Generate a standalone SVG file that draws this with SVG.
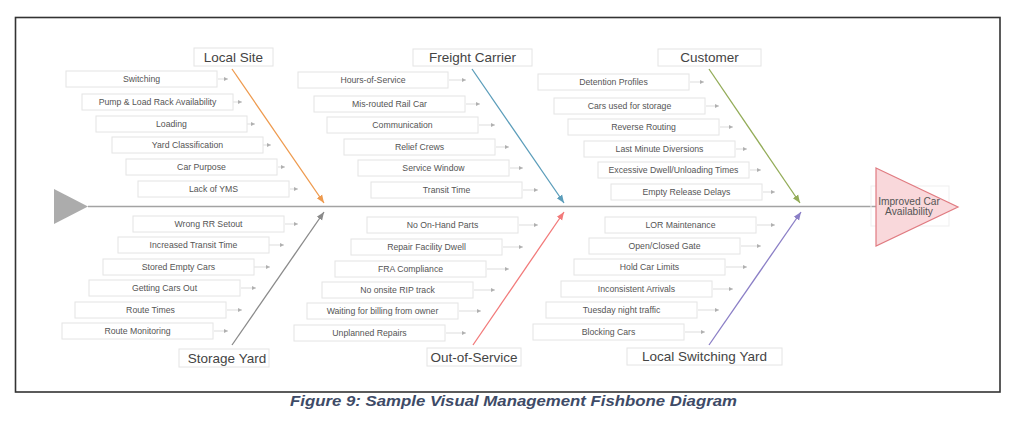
<svg xmlns="http://www.w3.org/2000/svg" width="1024" height="425" viewBox="0 0 1024 425">
<style>
.bg{fill:#ffffff}
.frame{fill:none;stroke:#333333;stroke-width:1.6}
.box{fill:#ffffff;stroke:#e4e4e4;stroke-width:1}
.cause{font-family:"Liberation Sans",Arial,sans-serif;font-size:8.7px;fill:#555555;text-anchor:middle}
.cat{font-family:"Liberation Sans",Arial,sans-serif;font-size:13.5px;fill:#444444;text-anchor:middle}
.tick{stroke:#d4d4d4;stroke-width:0.8;fill:none}
.bone{fill:none;stroke-width:1.3}
.spine{stroke:#a3a3a3;stroke-width:1.6}
.caption{font-family:"Liberation Sans",Arial,sans-serif;font-size:15.5px;font-weight:bold;font-style:italic;fill:#3e4b67;text-anchor:middle}
</style>
<defs>
<marker id="mSmall" viewBox="0 0 6 6" refX="6" refY="3" markerWidth="4" markerHeight="4" orient="auto" markerUnits="userSpaceOnUse"><path d="M0,0 L6,3 L0,6 z" fill="#b0b0b0"/></marker>
<marker id="mOrange" viewBox="0 0 10 10" refX="10" refY="5" markerWidth="8" markerHeight="8" orient="auto" markerUnits="userSpaceOnUse"><path d="M0,1 L10,5 L0,9 z" fill="#ee9a4e"/></marker>
<marker id="mGray" viewBox="0 0 10 10" refX="10" refY="5" markerWidth="8" markerHeight="8" orient="auto" markerUnits="userSpaceOnUse"><path d="M0,1 L10,5 L0,9 z" fill="#8a8a8a"/></marker>
<marker id="mBlue" viewBox="0 0 10 10" refX="10" refY="5" markerWidth="8" markerHeight="8" orient="auto" markerUnits="userSpaceOnUse"><path d="M0,1 L10,5 L0,9 z" fill="#5b9dba"/></marker>
<marker id="mRed" viewBox="0 0 10 10" refX="10" refY="5" markerWidth="8" markerHeight="8" orient="auto" markerUnits="userSpaceOnUse"><path d="M0,1 L10,5 L0,9 z" fill="#f27a7a"/></marker>
<marker id="mGreen" viewBox="0 0 10 10" refX="10" refY="5" markerWidth="8" markerHeight="8" orient="auto" markerUnits="userSpaceOnUse"><path d="M0,1 L10,5 L0,9 z" fill="#93ac58"/></marker>
<marker id="mPurple" viewBox="0 0 10 10" refX="10" refY="5" markerWidth="8" markerHeight="8" orient="auto" markerUnits="userSpaceOnUse"><path d="M0,1 L10,5 L0,9 z" fill="#8b7fc6"/></marker>
</defs>
<rect class="bg" x="0" y="0" width="1024" height="425"/>
<rect class="frame" x="15.5" y="17.5" width="984.5" height="374.5"/>

<g id="connectors">
<line class="spine" x1="88" y1="206.5" x2="876" y2="206.5"/>
<line class="bone" stroke="#ee9a4e" x1="232" y1="69" x2="324" y2="203" marker-end="url(#mOrange)"/>
<line class="bone" stroke="#8a8a8a" x1="232" y1="345" x2="324" y2="212" marker-end="url(#mGray)"/>
<line class="bone" stroke="#5b9dba" x1="472" y1="69" x2="564" y2="203" marker-end="url(#mBlue)"/>
<line class="bone" stroke="#f27a7a" x1="473" y1="345" x2="564" y2="212" marker-end="url(#mRed)"/>
<line class="bone" stroke="#93ac58" x1="709" y1="69" x2="800" y2="203" marker-end="url(#mGreen)"/>
<line class="bone" stroke="#8b7fc6" x1="709" y1="345" x2="801" y2="212" marker-end="url(#mPurple)"/>
<!-- small cause connectors -->
<g marker-end="url(#mSmall)" class="tick">
<line x1="218" y1="79" x2="228" y2="79"/>
<line x1="233" y1="102" x2="242" y2="102"/>
<line x1="247" y1="124" x2="255" y2="124"/>
<line x1="263" y1="145" x2="271" y2="145"/>
<line x1="278" y1="167" x2="285" y2="167"/>
<line x1="290" y1="189" x2="298" y2="189"/>
<line x1="285" y1="224" x2="298" y2="224"/>
<line x1="269" y1="245" x2="284" y2="245"/>
<line x1="254" y1="267" x2="270" y2="267"/>
<line x1="241" y1="288" x2="256" y2="288"/>
<line x1="227" y1="310" x2="242" y2="310"/>
<line x1="214" y1="331" x2="228" y2="331"/>
<line x1="449" y1="80" x2="466" y2="80"/>
<line x1="466" y1="104" x2="480" y2="104"/>
<line x1="479" y1="125" x2="495" y2="125"/>
<line x1="496" y1="147" x2="509" y2="147"/>
<line x1="510" y1="168" x2="523" y2="168"/>
<line x1="523" y1="190" x2="538" y2="190"/>
<line x1="519" y1="225" x2="538" y2="225"/>
<line x1="503" y1="247" x2="523" y2="247"/>
<line x1="487" y1="269" x2="509" y2="269"/>
<line x1="474" y1="290" x2="495" y2="290"/>
<line x1="459" y1="311" x2="481" y2="311"/>
<line x1="446" y1="333" x2="466" y2="333"/>
<line x1="690" y1="82" x2="704" y2="82"/>
<line x1="706" y1="106" x2="719" y2="106"/>
<line x1="720" y1="127" x2="733" y2="127"/>
<line x1="736" y1="149" x2="747" y2="149"/>
<line x1="750" y1="170" x2="761" y2="170"/>
<line x1="763" y1="192" x2="775" y2="192"/>
<line x1="757" y1="225" x2="775" y2="225"/>
<line x1="741" y1="246" x2="761" y2="246"/>
<line x1="726" y1="267" x2="747" y2="267"/>
<line x1="713" y1="289" x2="733" y2="289"/>
<line x1="698" y1="310" x2="719" y2="310"/>
<line x1="685" y1="332" x2="705" y2="332"/>
</g>
</g>

<g id="head-tail">
<polygon points="54,189 88,206.5 54,224" fill="#acacac"/>
</g>

<g id="effect">
<rect x="871" y="186" width="78" height="40" fill="none" stroke="#efefef" stroke-width="1"/>
<polygon points="876,168 958,207 876,246" fill="#f9d8db" stroke="#e07b81" stroke-width="1.2"/>
<text x="909" y="204.5" font-family="Liberation Sans, Arial, sans-serif" font-size="10.2" fill="#555555" text-anchor="middle">Improved Car</text>
<text x="909" y="214.5" font-family="Liberation Sans, Arial, sans-serif" font-size="10.2" fill="#555555" text-anchor="middle">Availability</text>
</g>

<g id="cat-local-site"><rect class="box" x="194" y="48" width="79" height="18"/><text class="cat" x="233.5" y="61.8">Local Site</text></g>
<g id="cat-freight-carrier"><rect class="box" x="413" y="49" width="119" height="17"/><text class="cat" x="472.5" y="62.3">Freight Carrier</text></g>
<g id="cat-customer"><rect class="box" x="658" y="49" width="103" height="17"/><text class="cat" x="709.5" y="62.3">Customer</text></g>
<g id="cat-storage-yard"><rect class="box" x="179" y="349" width="90" height="18"/><text class="cat" x="227" y="362.8">Storage Yard</text></g>
<g id="cat-out-of-service"><rect class="box" x="427" y="348" width="94" height="18"/><text class="cat" x="474" y="361.8">Out-of-Service</text></g>
<g id="cat-local-switching-yard"><rect class="box" x="627" y="348" width="155" height="17"/><text class="cat" x="704.5" y="361.3">Local Switching Yard</text></g>

<g id="causes-local-site">
<g id="c-switching"><rect class="box" x="66" y="71" width="151" height="16"/><text class="cause" x="141.5" y="82">Switching</text></g>
<g id="c-pump"><rect class="box" x="82" y="94" width="151" height="16"/><text class="cause" x="157.5" y="105">Pump &amp; Load Rack Availability</text></g>
<g id="c-loading"><rect class="box" x="96" y="116" width="151" height="16"/><text class="cause" x="171.5" y="127">Loading</text></g>
<g id="c-yard-class"><rect class="box" x="112" y="137" width="151" height="16"/><text class="cause" x="187.5" y="148">Yard Classification</text></g>
<g id="c-car-purpose"><rect class="box" x="126" y="159" width="151" height="16"/><text class="cause" x="201.5" y="170">Car Purpose</text></g>
<g id="c-yms"><rect class="box" x="138" y="181" width="151" height="16"/><text class="cause" x="213.5" y="192">Lack of YMS</text></g>
</g>

<g id="causes-storage-yard">
<g id="c-wrong-rr"><rect class="box" x="133" y="216" width="151" height="16"/><text class="cause" x="208.5" y="227">Wrong RR Setout</text></g>
<g id="c-incr-transit"><rect class="box" x="118" y="237" width="151" height="16"/><text class="cause" x="193.5" y="248">Increased Transit Time</text></g>
<g id="c-stored-empty"><rect class="box" x="103" y="259" width="151" height="16"/><text class="cause" x="178.5" y="270">Stored Empty Cars</text></g>
<g id="c-getting-out"><rect class="box" x="89" y="280" width="151" height="16"/><text class="cause" x="164.5" y="291">Getting Cars Out</text></g>
<g id="c-route-times"><rect class="box" x="75" y="302" width="151" height="16"/><text class="cause" x="150.5" y="313">Route Times</text></g>
<g id="c-route-mon"><rect class="box" x="62" y="323" width="151" height="16"/><text class="cause" x="137.5" y="334">Route Monitoring</text></g>
</g>

<g id="causes-freight-carrier">
<g id="c-hos"><rect class="box" x="298" y="72" width="150" height="16"/><text class="cause" x="373" y="83">Hours-of-Service</text></g>
<g id="c-misrouted"><rect class="box" x="314" y="96" width="151" height="16"/><text class="cause" x="389.5" y="107">Mis-routed Rail Car</text></g>
<g id="c-comm"><rect class="box" x="327" y="117" width="151" height="16"/><text class="cause" x="402.5" y="128">Communication</text></g>
<g id="c-relief"><rect class="box" x="344" y="139" width="151" height="16"/><text class="cause" x="419.5" y="150">Relief Crews</text></g>
<g id="c-service-window"><rect class="box" x="358" y="160" width="151" height="16"/><text class="cause" x="433.5" y="171">Service Window</text></g>
<g id="c-transit"><rect class="box" x="371" y="182" width="151" height="16"/><text class="cause" x="446.5" y="193">Transit Time</text></g>
</g>

<g id="causes-out-of-service">
<g id="c-no-parts"><rect class="box" x="367" y="217" width="151" height="16"/><text class="cause" x="442.5" y="228">No On-Hand Parts</text></g>
<g id="c-repair-dwell"><rect class="box" x="351" y="239" width="151" height="16"/><text class="cause" x="426.5" y="250">Repair Facility Dwell</text></g>
<g id="c-fra"><rect class="box" x="335" y="261" width="151" height="16"/><text class="cause" x="410.5" y="272">FRA Compliance</text></g>
<g id="c-rip"><rect class="box" x="322" y="282" width="151" height="16"/><text class="cause" x="397.5" y="293">No onsite RIP track</text></g>
<g id="c-billing"><rect class="box" x="307" y="303" width="151" height="16"/><text class="cause" x="382.5" y="314">Waiting for billing from owner</text></g>
<g id="c-unplanned"><rect class="box" x="294" y="325" width="151" height="16"/><text class="cause" x="369.5" y="336">Unplanned Repairs</text></g>
</g>

<g id="causes-customer">
<g id="c-detention"><rect class="box" x="538" y="74" width="151" height="16"/><text class="cause" x="613.5" y="85">Detention Profiles</text></g>
<g id="c-storage-cars"><rect class="box" x="554" y="98" width="151" height="16"/><text class="cause" x="629.5" y="109">Cars used for storage</text></g>
<g id="c-reverse"><rect class="box" x="568" y="119" width="151" height="16"/><text class="cause" x="643.5" y="130">Reverse Routing</text></g>
<g id="c-diversions"><rect class="box" x="584" y="141" width="151" height="16"/><text class="cause" x="659.5" y="152">Last Minute Diversions</text></g>
<g id="c-dwell"><rect class="box" x="598" y="162" width="151" height="16"/><text class="cause" x="673.5" y="173">Excessive Dwell/Unloading Times</text></g>
<g id="c-release"><rect class="box" x="611" y="184" width="151" height="16"/><text class="cause" x="686.5" y="195">Empty Release Delays</text></g>
</g>

<g id="causes-local-switching-yard">
<g id="c-lor"><rect class="box" x="605" y="217" width="151" height="16"/><text class="cause" x="680.5" y="228">LOR Maintenance</text></g>
<g id="c-gate"><rect class="box" x="589" y="238" width="151" height="16"/><text class="cause" x="664.5" y="249">Open/Closed Gate</text></g>
<g id="c-hold"><rect class="box" x="574" y="259" width="151" height="16"/><text class="cause" x="649.5" y="270">Hold Car Limits</text></g>
<g id="c-arrivals"><rect class="box" x="561" y="281" width="151" height="16"/><text class="cause" x="636.5" y="292">Inconsistent Arrivals</text></g>
<g id="c-tuesday"><rect class="box" x="546" y="302" width="151" height="16"/><text class="cause" x="621.5" y="313">Tuesday night traffic</text></g>
<g id="c-blocking"><rect class="box" x="533" y="324" width="151" height="16"/><text class="cause" x="608.5" y="335">Blocking Cars</text></g>
</g>

<text class="caption" x="513.5" y="406" textLength="447" lengthAdjust="spacingAndGlyphs">Figure 9: Sample Visual Management Fishbone Diagram</text>
</svg>
